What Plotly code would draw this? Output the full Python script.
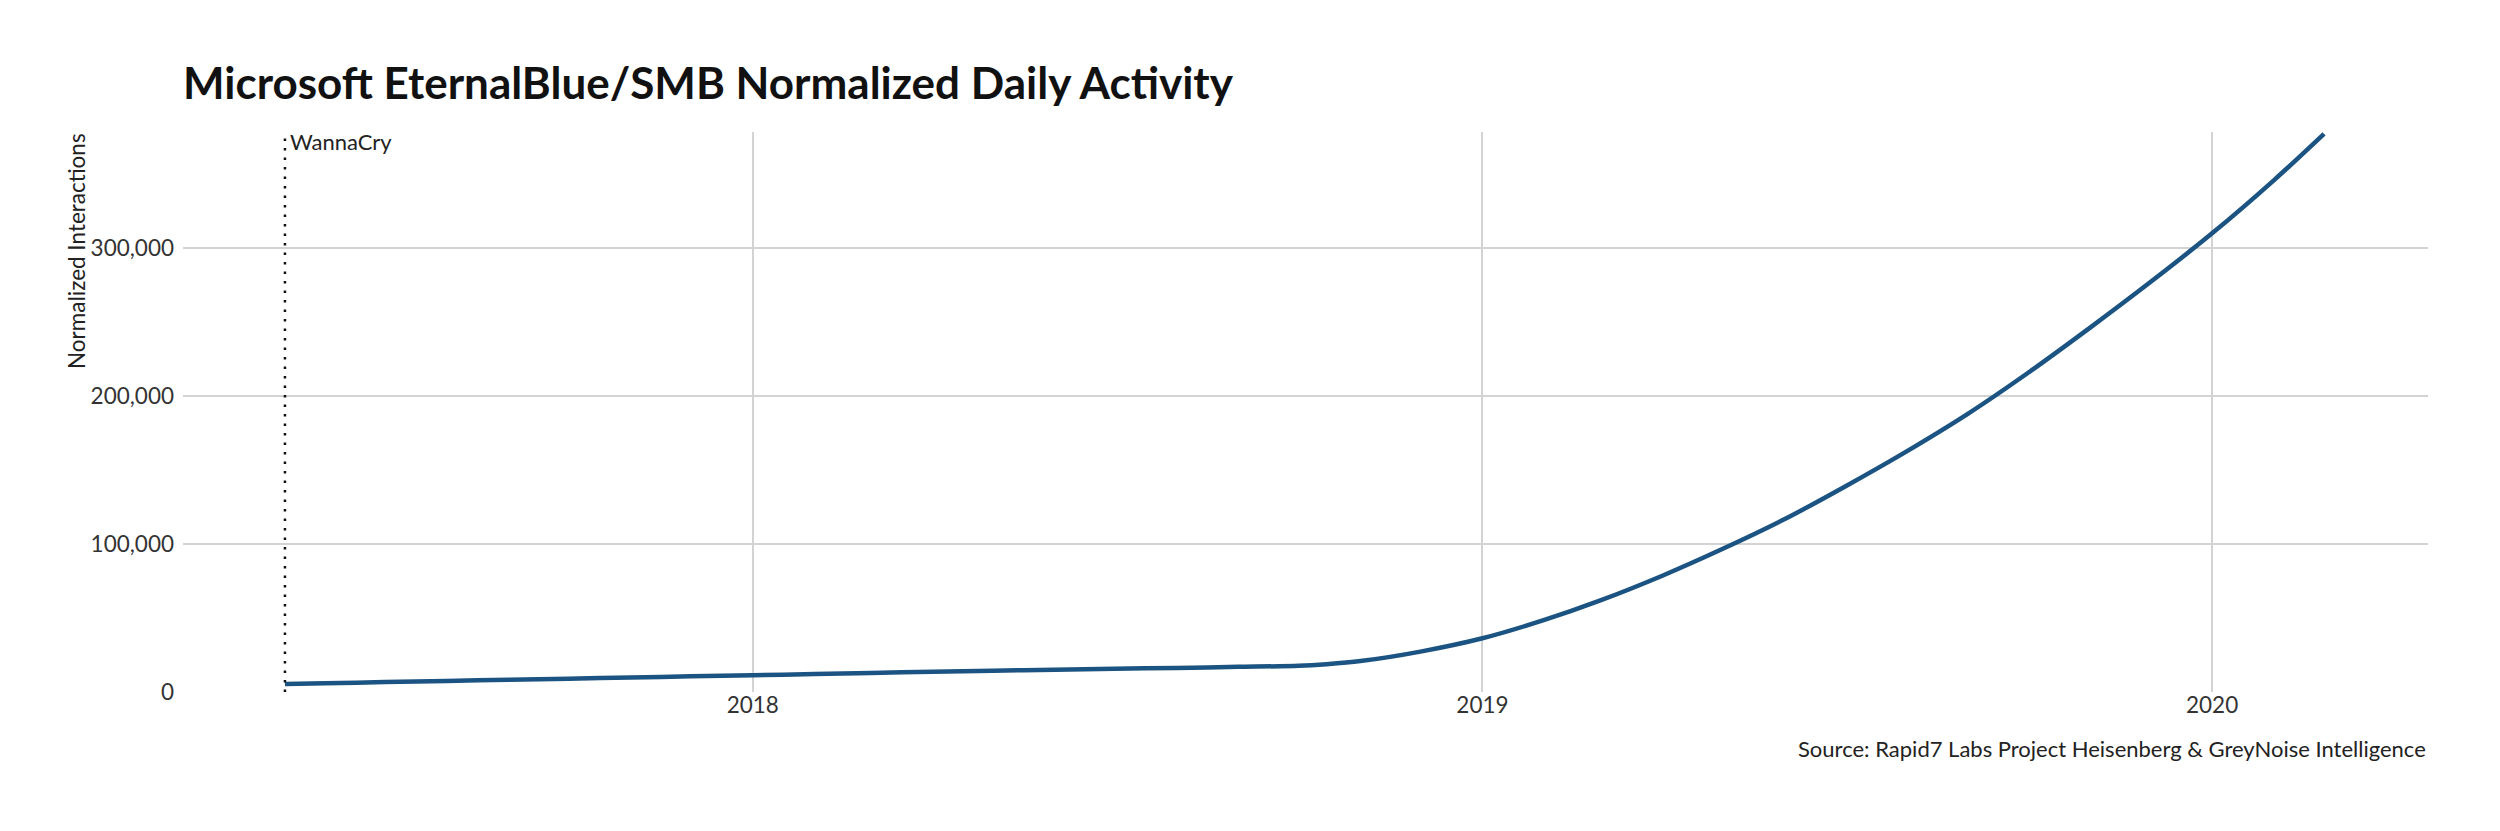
import plotly.graph_objects as go

# ---- data ----
dates = ["2017-05-12", "2017-06-01", "2017-07-01", "2017-08-01", "2017-09-01",
         "2017-10-01", "2017-11-01", "2017-12-01", "2018-01-01", "2018-02-01",
         "2018-03-01", "2018-04-01", "2018-05-01", "2018-06-01", "2018-07-01",
         "2018-08-01", "2018-09-01", "2018-10-01", "2018-10-15", "2018-11-01",
         "2018-12-01", "2019-01-01", "2019-02-01", "2019-03-01", "2019-04-01",
         "2019-05-01", "2019-06-01", "2019-07-01", "2019-08-01", "2019-09-01",
         "2019-10-01", "2019-11-01", "2019-12-01", "2020-01-01", "2020-02-01",
         "2020-02-26"]
values = [5400, 5900, 6700, 7500, 8300,
          9000, 9800, 10600, 11400, 12100,
          12900, 13700, 14400, 15100, 15700,
          16300, 17000, 17700, 18800, 20900,
          27300, 36300, 48700, 61900, 78600,
          96600, 116700, 138600, 162500, 188200,
          215800, 246300, 276900, 310000, 346000,
          377300]

event_date = "2017-05-12"
event_label = "WannaCry"
y_ticks = [0, 100000, 200000, 300000]
y_tick_labels = ["0", "100,000", "200,000", "300,000"]
x_ticks = ["2018-01-01", "2019-01-01", "2020-01-01"]
x_tick_labels = ["2018", "2019", "2020"]

title = "Microsoft EternalBlue/SMB Normalized Daily Activity"
y_title = "Normalized Interactions"
caption = "Source: Rapid7 Labs Project Heisenberg & GreyNoise Intelligence"

FONT = "Lato"
BODY = 8                      # default page margin around the plot div
W, H = 2500 - 2 * BODY, 831 - 2 * BODY
ML, MT = 183 - BODY, 132 - BODY
PW, PH = 2245, 560
MR, MB = W - ML - PW, H - MT - PH
Y_MAX = 378500

fig = go.Figure()

fig.add_trace(go.Scatter(
    x=dates, y=values, mode="lines",
    line=dict(color="#1b5382", width=4.5, shape="spline", smoothing=0.8),
    hoverinfo="skip", showlegend=False,
))

fig.add_shape(type="line", xref="x", yref="y",
              x0=event_date, x1=event_date, y0=0, y1=Y_MAX,
              line=dict(color="#111111", width=2.5, dash="2.5px,7px"),
              layer="above")

fig.add_annotation(x=event_date, y=1, xref="x", yref="paper",
                   text=event_label, showarrow=False,
                   xanchor="left", yanchor="top", xshift=3, yshift=6,
                   font=dict(family=FONT, size=22, color="#222222"))

fig.add_annotation(x=0, y=1, xref="paper", yref="paper",
                   text=y_title, showarrow=False, textangle=-90,
                   xanchor="center", yanchor="top", xshift=-107, yshift=1,
                   font=dict(family=FONT, size=22.5, color="#222222"))

fig.add_annotation(x=1, y=-(748 - 692) / PH, xref="paper", yref="paper",
                   text=caption, showarrow=False,
                   xanchor="right", yanchor="middle",
                   font=dict(family=FONT, size=22, color="#222222"))

fig.update_layout(
    width=W, height=H,
    margin=dict(l=ML, r=MR, t=MT, b=MB, pad=0),
    paper_bgcolor="white", plot_bgcolor="white",
    title=dict(text="<b>" + title + "</b>", x=ML / W, xanchor="left",
               y=1 - (84 - BODY) / H, yanchor="middle", yref="container",
               font=dict(family=FONT, size=44, color="#111111")),
    font=dict(family=FONT, size=22, color="#333333"),
)

fig.update_xaxes(
    range=["2017-03-22", "2020-04-18"], type="date",
    tickvals=x_ticks, ticktext=x_tick_labels,
    showgrid=True, gridcolor="#d3d3d3", gridwidth=1.5,
    zeroline=False, showline=False, ticks="", ticklabelstandoff=-3,
    tickfont=dict(family=FONT, size=22.5, color="#333333"),
)
fig.update_yaxes(
    range=[0, Y_MAX],
    tickvals=y_ticks, ticktext=y_tick_labels,
    showgrid=True, gridcolor="#d3d3d3", gridwidth=1.5,
    zeroline=False, showline=False, ticks="", ticklabelstandoff=8,
    tickfont=dict(family=FONT, size=22.5, color="#333333"),
)

fig.write_html("out.html")
